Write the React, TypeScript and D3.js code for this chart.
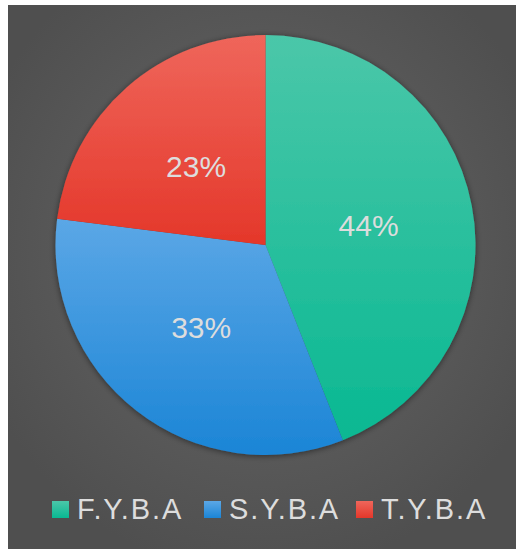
import React from "react";
import * as d3 from "d3";

const categories = ["F.Y.B.A", "S.Y.B.A", "T.Y.B.A"];
const values = [44, 33, 23];
const colorsTop = ["#4bc7a9", "#5ba7e6", "#ef665b"];
const colorsBottom = ["#09b892", "#1b85d6", "#e4372a"];

export default function App() {
  const W = 516;
  const H = 549;
  const bgX = 8, bgY = 5;
  const cx = 265.5, cy = 245, R = 210;

  const pie = d3.pie<number>().sort(null).value((d) => d);
  const arcs = pie(values);
  const arcGen = d3.arc<d3.PieArcDatum<number>>().innerRadius(0).outerRadius(R);
  const total = d3.sum(values);

  const legendX = d3.scaleOrdinal<string, number>().domain(categories).range([52, 204, 356]);

  return (
    <svg width={W} height={H} style={{ position: "absolute", left: 0, top: 0 }}>
      <defs>
        <radialGradient id="bg" cx="50%" cy="45%" r="60%">
          <stop offset="0%" stopColor="#686868" />
          <stop offset="100%" stopColor="#4f4f4f" />
        </radialGradient>
        {categories.map((c, i) => (
          <linearGradient key={c} id={`g${i}`} x1="0" y1="0" x2="0" y2="1">
            <stop offset="0%" stopColor={colorsTop[i]} />
            <stop offset="100%" stopColor={colorsBottom[i]} />
          </linearGradient>
        ))}
        <filter id="shadow" x="-10%" y="-10%" width="120%" height="120%">
          <feGaussianBlur in="SourceAlpha" stdDeviation="3" />
          <feOffset dx="0" dy="1" result="b" />
          <feComponentTransfer>
            <feFuncA type="linear" slope="0.5" />
          </feComponentTransfer>
          <feMerge>
            <feMergeNode />
            <feMergeNode in="SourceGraphic" />
          </feMerge>
        </filter>
      </defs>
      <rect x={bgX} y={bgY} width={W - bgX} height={H - bgY} fill="url(#bg)" />
      <g transform={`translate(${cx},${cy})`}>
        <g filter="url(#shadow)">
          {arcs.map((a, i) => (
            <path key={i} d={arcGen(a) || ""} fill={`url(#g${i})`} />
          ))}
        </g>
        {arcs.map((a, i) => {
          const [x, y] = arcGen.centroid(a);
          return (
            <text
              key={i}
              x={x}
              y={y}
              textAnchor="middle"
              dominantBaseline="central"
              fill="#dddddd"
              fontFamily="Liberation Sans, Arial, sans-serif"
              fontSize={30}
            >
              {`${Math.round((values[i] / total) * 100)}%`}
            </text>
          );
        })}
      </g>
      <g>
        {categories.map((c, i) => (
          <g key={c} transform={`translate(${legendX(c)},501)`}>
            <rect x={0} y={0} width={17} height={17} fill={`url(#g${i})`} />
            <text
              x={25}
              y={17.5}
              fill="#dddddd"
              fontFamily="Liberation Sans, Arial, sans-serif"
              fontSize={29}
              letterSpacing={1.9}
            >
              {c}
            </text>
          </g>
        ))}
      </g>
    </svg>
  );
}
